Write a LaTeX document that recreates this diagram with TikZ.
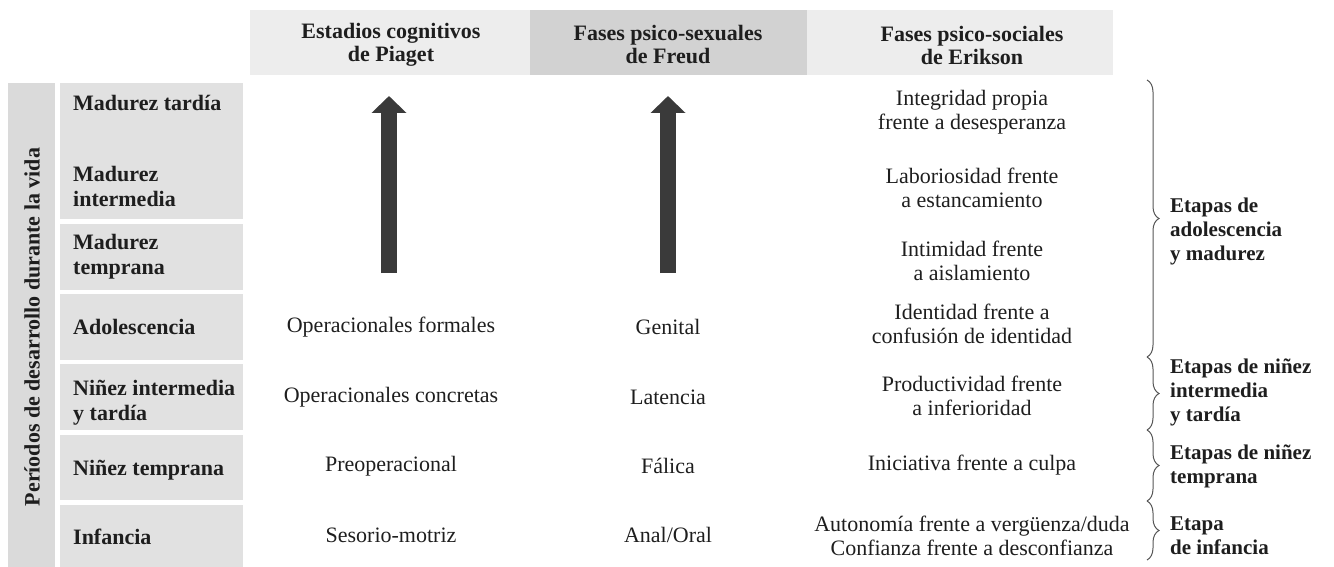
\documentclass[tikz,border=0pt]{standalone}
\usepackage{fontspec}
\setmainfont{Liberation Serif}
\usetikzlibrary{arrows.meta,decorations.pathreplacing}
\definecolor{bandgray}{HTML}{EDEDED}
\definecolor{freudgray}{HTML}{D2D2D2}
\definecolor{rowgray}{HTML}{E1E1E1}
\definecolor{bargray}{HTML}{DADADA}
\definecolor{arrowgray}{HTML}{3A3A3A}
\definecolor{inkgray}{HTML}{1E1E1E}
\tikzset{
	head/.style={font=\bfseries\fontsize{22}{23}\selectfont, align=center, text=inkgray, inner sep=0},
	period/.style={font=\bfseries\fontsize{22}{25}\selectfont, align=left, anchor=west, text=inkgray, inner sep=0},
	stage/.style={font=\fontsize{22}{24}\selectfont, align=center, text=inkgray, inner sep=0},
	group/.style={font=\bfseries\fontsize{21}{24}\selectfont, align=left, anchor=west, text=inkgray, inner sep=0},
	growth/.style={draw=arrowgray, line width=16pt, -{Triangle[width=34pt,length=17pt]}},
	bracket/.style={decorate, decoration={brace,amplitude=12pt}, draw=inkgray!75, line width=1pt}
}
\begin{document}
\begin{tikzpicture}[x=1pt,y=-1pt]
		\useasboundingbox (0,0) rectangle (1334,567);
		\fill[bandgray] (250,10) rectangle (1113,75);
		\fill[freudgray] (530,10) rectangle (807,75);
		\fill[bargray] (8,83) rectangle (55,567);
		\fill[rowgray] (60,83) rectangle (243,219);
		\fill[rowgray] (60,224) rectangle (243,290);
		\fill[rowgray] (60,294) rectangle (243,360);
		\fill[rowgray] (60,364) rectangle (243,430);
		\fill[rowgray] (60,435) rectangle (243,500);
		\fill[rowgray] (60,505) rectangle (243,567);
		\node[head] (hpiaget) at (391,45) {Estadios cognitivos\\de Piaget};
		\node[head] (hfreud) at (668,45) {Fases psico-sexuales\\de Freud};
		\node[head] (herikson) at (972,45) {Fases psico-sociales\\de Erikson};
		\node[period, anchor=center, rotate=90] (vida) at (32,327) {Períodos de desarrollo durante la vida};
		\node[period] (mtardia) at (73,103) {Madurez tardía};
		\node[period] (minter) at (73,186) {Madurez\\intermedia};
		\node[period] (mtemp) at (73,257) {Madurez\\temprana};
		\node[period] (adol) at (73,327) {Adolescencia};
		\node[period] (ninter) at (73,403) {Niñez intermedia\\y tardía};
		\node[period] (ntemp) at (73,470) {Niñez temprana};
		\node[period] (infan) at (73,537) {Infancia};
		\node[stage] (pformal) at (391,327) {Operacionales formales};
		\node[stage] (pconcr) at (391,397) {Operacionales concretas};
		\node[stage] (ppreop) at (391,466) {Preoperacional};
		\node[stage] (psenso) at (391,535) {Sesorio-motriz};
		\node[stage] (fgenit) at (668,327) {Genital};
		\node[stage] (flaten) at (668,397) {Latencia};
		\node[stage] (ffalic) at (668,466) {Fálica};
		\node[stage] (fanal) at (668,535) {Anal/Oral};
		\node[stage] (eintegr) at (972,112) {Integridad propia\\frente a desesperanza};
		\node[stage] (elabor) at (972,188) {Laboriosidad frente\\a estancamiento};
		\node[stage] (eintim) at (972,261) {Intimidad frente\\a aislamiento};
		\node[stage] (eident) at (972,324) {Identidad frente a\\confusión de identidad};
		\node[stage] (eprod) at (972,396) {Productividad frente\\a inferioridad};
		\node[stage] (einic) at (972,465) {Iniciativa frente a culpa};
		\node[stage] (eauto) at (972,536) {Autonomía frente a vergüenza/duda\\Confianza frente a desconfianza};
		\coordinate (pbase) at (389,273);
		\coordinate (ptop) at (389,96);
		\coordinate (fbase) at (668,273);
		\coordinate (ftop) at (668,96);
		\draw[growth] (pbase) -- (ptop);
		\draw[growth] (fbase) -- (ftop);
		\coordinate (b1) at (1147,80);
		\coordinate (b2) at (1147,357);
		\coordinate (b3) at (1147,430);
		\coordinate (b4) at (1147,501);
		\coordinate (b5) at (1147,560);
		\draw[bracket] (b1) -- (b2);
		\draw[bracket] (b2) -- (b3);
		\draw[bracket] (b3) -- (b4);
		\draw[bracket] (b4) -- (b5);
		\node[group] (gadol) at (1170,231) {Etapas de\\adolescencia\\y madurez};
		\node[group] (gninter) at (1170,392) {Etapas de niñez\\intermedia\\y tardía};
		\node[group] (gntemp) at (1170,466) {Etapas de niñez\\temprana};
		\node[group] (ginfan) at (1170,536) {Etapa\\de infancia};
	\end{tikzpicture}
\end{document}
